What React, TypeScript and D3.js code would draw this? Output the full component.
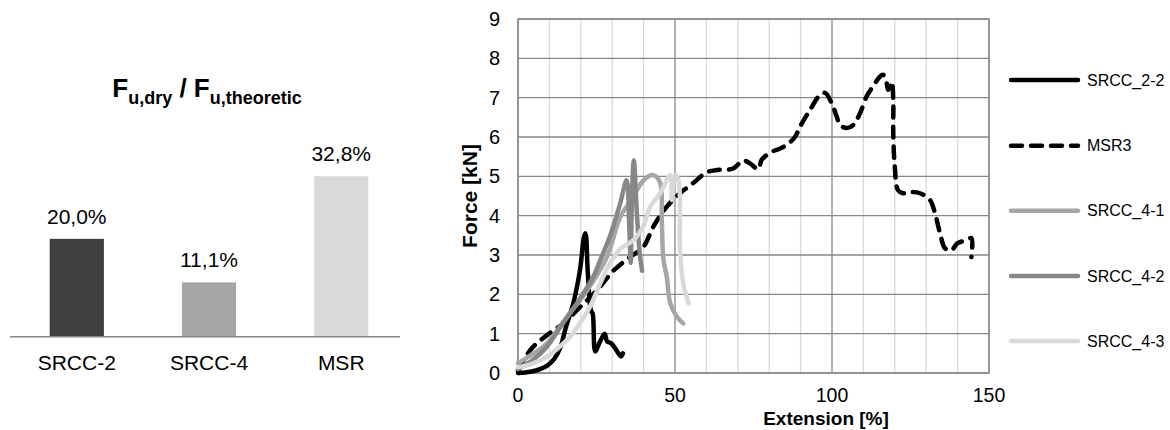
import React from 'react';
import * as d3 from 'd3';

// bar chart (left)
const barCategories = ['SRCC-2', 'SRCC-4', 'MSR'];
const barValues = [0.2, 0.111, 0.328];
const barColors = ['#404040', '#a5a5a5', '#d9d9d9'];

// force / extension curves (right)
const seriesNames = ['SRCC_2-2', 'MSR3', 'SRCC_4-1', 'SRCC_4-2', 'SRCC_4-3'];
const seriesColors = ['#000000', '#000000', '#a6a6a6', '#878787', '#d9d9d9'];
const seriesDashed = [false, true, false, false, false];

const srcc22: [number, number][] = [
  [0, 0], [4, 0.03], [7, 0.1], [9.2, 0.18], [11.5, 0.35], [13.5, 0.65], [15.2, 1.15],
  [17.7, 1.8], [19.8, 2.65], [21, 3.45], [21.5, 3.55], [22.2, 2.6], [23.2, 1.6],
  [23.8, 1.5], [24.6, 0.55], [26, 0.78], [27.6, 1.0], [28.4, 0.8], [29.6, 0.76],
  [31, 0.62], [32.8, 0.42], [33.4, 0.5],
];
const msr3: [number, number][] = [
  [0, 0.05], [3.9, 0.58], [9.2, 0.96], [14.4, 1.26], [19.8, 1.68], [25.1, 2.1],
  [30.4, 2.6], [35.7, 2.95], [39.9, 3.2], [43.1, 3.72], [47.4, 4.23], [51.6, 4.57],
  [55.8, 4.83], [60.1, 5.1], [63.3, 5.16], [68.5, 5.2], [71.7, 5.4], [73.9, 5.33],
  [76.5, 5.18], [77.6, 5.42], [80.3, 5.6], [83.5, 5.71], [85.6, 5.8], [88.2, 6.0],
  [89.8, 6.26], [93, 6.69], [96.2, 7.07], [97.8, 7.12], [99.9, 6.86], [101.5, 6.52],
  [102.6, 6.3], [104.7, 6.23], [106.7, 6.3], [108.9, 6.6], [111, 7.03], [113, 7.28],
  [115.3, 7.54], [116.3, 7.58], [117.4, 7.37], [117.9, 7.2], [119, 7.4], [119.5, 6.94],
  [119.5, 6.1], [120, 5.25], [121, 4.65], [122.6, 4.57], [124.8, 4.6], [128, 4.57],
  [131.2, 4.4], [132.8, 4.06], [134.4, 3.55], [136, 3.17], [138, 3.12], [140, 3.3],
  [142.9, 3.38], [144.4, 3.43], [144.4, 2.95],
];
const srcc41: [number, number][] = [
  [0, 0.25], [4, 0.45], [9.2, 0.75], [15.6, 1.43], [22, 2.1], [28.3, 2.95], [32.6, 3.97],
  [36.5, 4.45], [40, 4.9], [43.1, 5.03], [45.3, 4.83], [45.8, 3.9], [46.3, 2.9],
  [47.4, 2.44], [48.5, 1.77], [50.6, 1.43], [52.6, 1.26],
];
const srcc42: [number, number][] = [
  [0, 0.1], [5, 0.35], [9, 0.65], [13.5, 1.17], [19, 1.8], [24, 2.45], [26.2, 2.87],
  [29.4, 3.5], [32.5, 4.3], [34.6, 4.9], [35.4, 3.8], [35.9, 2.8], [36.3, 4.5],
  [36.9, 5.4], [37.9, 4.0], [38.7, 3.1], [39.5, 2.6],
];
const srcc43: [number, number][] = [
  [0, 0.15], [4, 0.22], [9.2, 0.41], [13, 0.65], [16.6, 0.92], [20, 1.3], [23, 1.7],
  [26.2, 2.28], [29, 2.75], [32.5, 3.15], [36.8, 3.38], [40, 3.75], [42.1, 4.23],
  [45.3, 4.57], [48.5, 5.03], [49, 4.4], [50, 5.03], [51.1, 4.9], [51.6, 3.12],
  [52.6, 2.28], [54.3, 1.77],
];
const seriesData = [srcc22, msr3, srcc41, srcc42, srcc43];

const xTicks = [0, 50, 100, 150];
const xMinor = d3.range(0, 151, 10);
const yTicks = d3.range(0, 10, 1);

const FONT = '"Liberation Sans", Arial, sans-serif';
const GRID_DARK = '#878787';
const GRID_LIGHT = '#d9d9d9';

const App = () => {
  // left bars
  const bx = d3.scaleBand().domain(barCategories).range([10, 408]).paddingInner(0.59).paddingOuter(0.3);
  const by = d3.scaleLinear().domain([0, 0.4]).range([336.7, 141]);
  const pct = (v: number) => (v * 100).toFixed(1).replace('.', ',') + '%';

  // right line chart
  const x = d3.scaleLinear().domain([0, 150]).range([518, 989]);
  const y = d3.scaleLinear().domain([0, 9]).range([373, 19]);
  const line = d3.line<[number, number]>()
    .x(d => x(d[0]))
    .y(d => y(d[1]))
    .curve(d3.curveCatmullRom.alpha(0.5));

  const legendY = [80, 145.7, 210.7, 276, 341];

  return (
    <div style={{ position: 'fixed', left: 0, top: 0 }}>
      <svg width={1170} height={430} style={{ display: 'block', background: '#fff' }} fontFamily={FONT}>
        {/* title */}
        <text x={207} y={97} textAnchor="middle" fontWeight="bold" fontSize={26} fill="#000">
          F<tspan fontSize={18} dy={7}>u,dry</tspan>
          <tspan fontSize={26} dy={-7}> / F</tspan>
          <tspan fontSize={18} dy={7}>u,theoretic</tspan>
        </text>

        {barCategories.map((c, i) => (
          <g key={c}>
            <rect x={bx(c)} y={by(barValues[i])} width={bx.bandwidth()}
              height={by(0) - by(barValues[i])} fill={barColors[i]} />
            <text x={bx(c)! + bx.bandwidth() / 2} y={by(barValues[i]) - 15}
              textAnchor="middle" fontSize={21} fill="#000">{pct(barValues[i])}</text>
            <text x={bx(c)! + bx.bandwidth() / 2} y={370}
              textAnchor="middle" fontSize={21} fill="#000">{c}</text>
          </g>
        ))}
        <line x1={10} x2={400} y1={by(0)} y2={by(0)} stroke={GRID_DARK} strokeWidth={1.5} />

        {/* grid */}
        {xMinor.map(t => (
          <line key={'vx' + t} x1={x(t)} x2={x(t)} y1={y(0)} y2={y(9)}
            stroke={t % 50 === 0 ? GRID_DARK : GRID_LIGHT} strokeWidth={1.3} />
        ))}
        {yTicks.map(t => (
          <line key={'hy' + t} x1={x(0)} x2={x(150)} y1={y(t)} y2={y(t)}
            stroke={GRID_DARK} strokeWidth={1.3} />
        ))}
        <rect x={x(0)} y={y(9)} width={x(150) - x(0)} height={y(0) - y(9)}
          fill="none" stroke={GRID_DARK} strokeWidth={1.3} />

        {/* axis labels */}
        {yTicks.map(t => (
          <text key={'yl' + t} x={500} y={y(t)} dy="0.35em" textAnchor="end" fontSize={20} fill="#000">{t}</text>
        ))}
        {xTicks.map(t => (
          <text key={'xl' + t} x={x(t)} y={402} textAnchor="middle" fontSize={19.5} fill="#000">{t}</text>
        ))}
        <text x={826} y={425} textAnchor="middle" fontWeight="bold" fontSize={19} fill="#000">Extension [%]</text>
        <text transform={`translate(477, ${(y(0) + y(9)) / 2}) rotate(-90)`} textAnchor="middle"
          fontWeight="bold" fontSize={21} fill="#000">Force [kN]</text>

        {/* curves */}
        {seriesData.map((d, i) => (
          <path key={seriesNames[i]} d={line(d) || ''} fill="none" stroke={seriesColors[i]}
            strokeWidth={4.5} strokeLinejoin="round" strokeLinecap="round"
            strokeDasharray={seriesDashed[i] ? '11,9' : undefined} />
        ))}

        {/* legend */}
        {seriesNames.map((n, i) => (
          <g key={'lg' + n}>
            <line x1={1011} x2={1078} y1={legendY[i]} y2={legendY[i]} stroke={seriesColors[i]}
              strokeWidth={4.5} strokeLinecap="round"
              strokeDasharray={seriesDashed[i] ? '11,9' : undefined} />
            <text x={1087} y={legendY[i]} dy="0.35em" fontSize={16} fill="#000">{n}</text>
          </g>
        ))}
      </svg>
    </div>
  );
};

export default App;
